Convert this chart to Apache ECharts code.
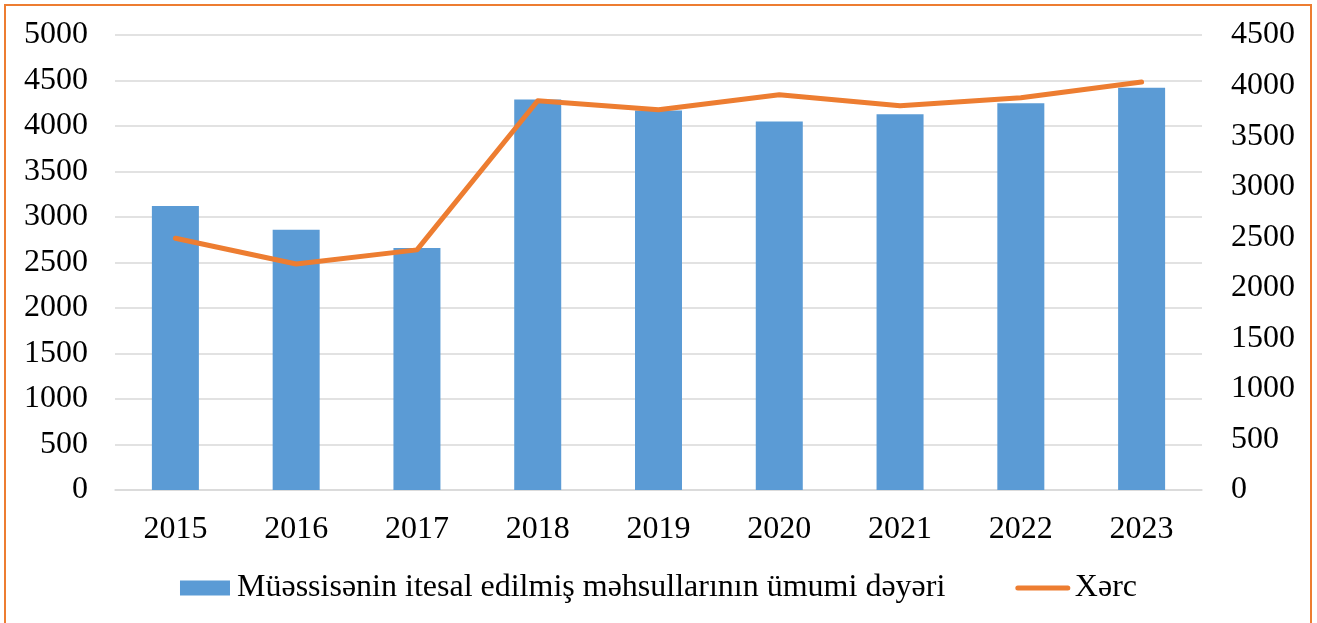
<!DOCTYPE html>
<html>
<head>
<meta charset="utf-8">
<script src="https://cdn.jsdelivr.net/npm/echarts@6/dist/echarts.min.js"></script>
<style>
  html, body { margin: 0; padding: 0; background: #fff; }
  #chart { width: 1317px; height: 623px; }
</style>
</head>
<body>
<div id="chart"></div>
<script>
const years = ['2015', '2016', '2017', '2018', '2019', '2020', '2021', '2022', '2023'];
const productValue = [3120, 2860, 2660, 4290, 4170, 4050, 4130, 4250, 4420];
const expense = [2490, 2235, 2375, 3850, 3760, 3910, 3800, 3880, 4035];

const barName = 'Müəssisənin itesal edilmiş məhsullarının ümumi dəyəri';
const lineName = 'Xərc';

const font = "'Liberation Serif', 'Times New Roman', serif";
const chart = echarts.init(document.getElementById('chart'));

chart.setOption({
  backgroundColor: '#fff',
  animation: false,
  textStyle: { fontFamily: font, color: '#000' },
  graphic: [
    {
      type: 'rect',
      shape: { x: 5, y: 5, width: 1306, height: 700 },
      style: { fill: 'none', stroke: '#ED7D31', lineWidth: 2 },
      silent: true,
    },
  ],
  grid: { left: 115, right: 115, top: 35, bottom: 133, containLabel: false },
  legend: {
    bottom: 14,
    left: 'center',
    itemWidth: 50,
    itemHeight: 15,
    itemGap: 70,
    textStyle: { fontFamily: font, fontSize: 32, color: '#000', padding: [0, 0, 0, 2] },
    data: [
      { name: barName, icon: 'rect' },
      { name: lineName, itemStyle: { opacity: 0 }, lineStyle: { width: 5, cap: 'round' } },
    ],
  },
  xAxis: {
    type: 'category',
    data: years,
    axisLine: { lineStyle: { color: '#D9D9D9', width: 1.5 } },
    axisTick: { show: false },
    axisLabel: { color: '#000', fontFamily: font, fontSize: 32, margin: 24 },
  },
  yAxis: [
    {
      type: 'value',
      min: 0,
      max: 5000,
      interval: 500,
      axisLine: { show: false },
      axisTick: { show: false },
      axisLabel: { color: '#000', fontFamily: font, fontSize: 32, margin: 27, formatter: (v) => String(v) },
      splitLine: { lineStyle: { color: '#D9D9D9', width: 1.5 } },
    },
    {
      type: 'value',
      min: 0,
      max: 4500,
      interval: 500,
      axisLine: { show: false },
      axisTick: { show: false },
      axisLabel: { color: '#000', fontFamily: font, fontSize: 32, margin: 29, formatter: (v) => String(v) },
      splitLine: { show: false },
    },
  ],
  series: [
    {
      name: barName,
      type: 'bar',
      data: productValue,
      barWidth: 47,
      itemStyle: { color: '#5B9BD5' },
    },
    {
      name: lineName,
      type: 'line',
      yAxisIndex: 1,
      data: expense,
      symbol: 'none',
      lineStyle: { color: '#ED7D31', width: 5, cap: 'round', join: 'round' },
      itemStyle: { color: '#ED7D31' },
    },
  ],
});
</script>
</body>
</html>
